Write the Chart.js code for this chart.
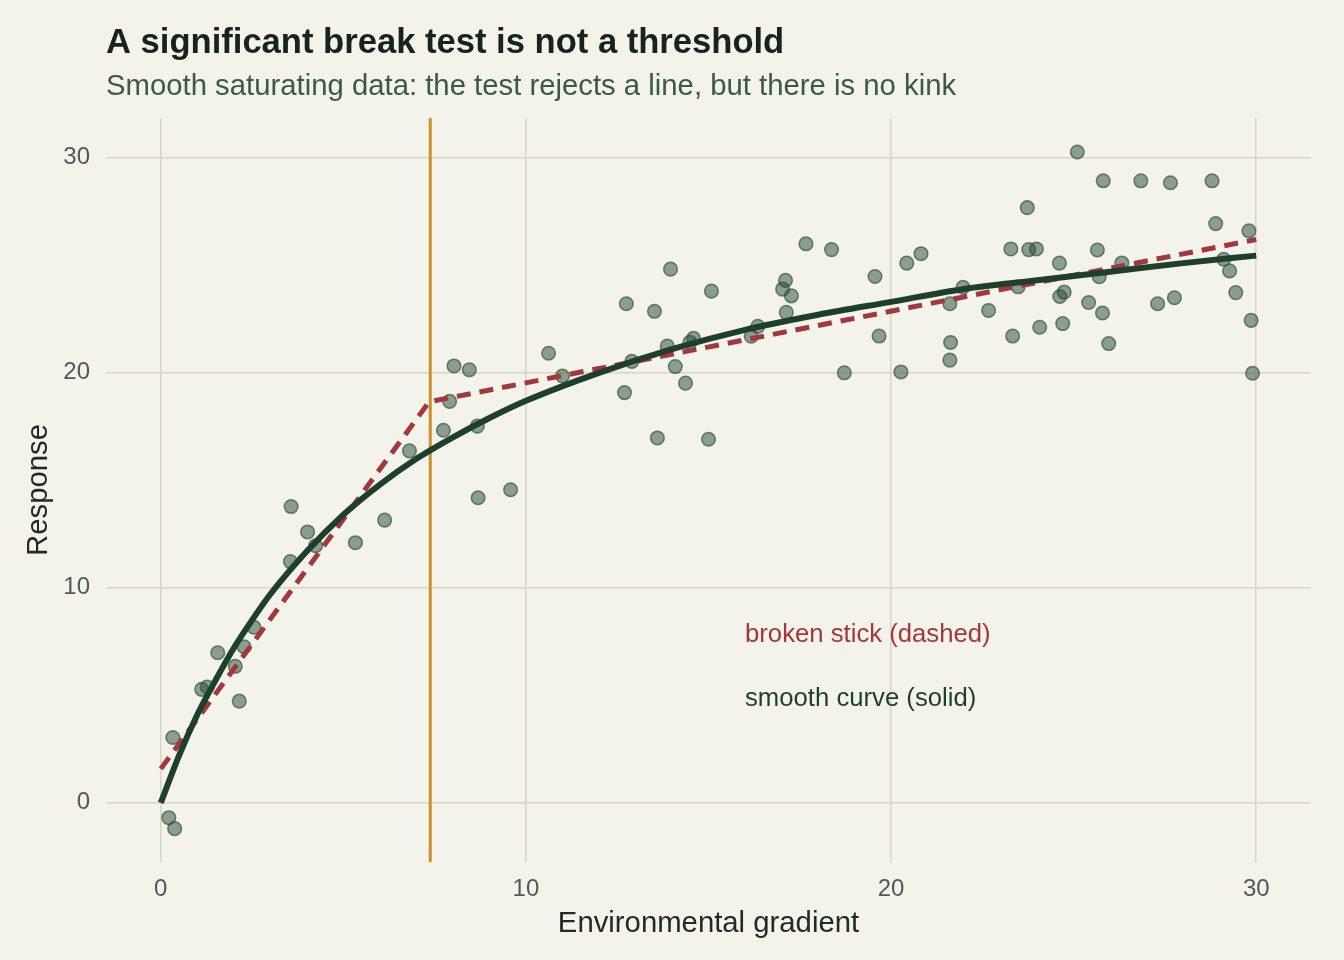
<!DOCTYPE html>
<html>
<head>
<meta charset="utf-8">
<title>A significant break test is not a threshold</title>
<script src="https://cdn.jsdelivr.net/npm/chart.js@4.4.1/dist/chart.umd.min.js"></script>
<style>
  html, body { margin: 0; padding: 0; background: #f3f2eb; }
  #wrap { width: 1344px; height: 960px; }
</style>
</head>
<body>
<div id="wrap"><canvas id="chart" width="1344" height="960"></canvas></div>
<script>
// observed points (x = environmental gradient, y = response)
const obsX = [0.22, 0.38, 0.33, 1.12, 1.27, 1.56, 2.04, 2.15, 2.28, 2.55, 3.57, 3.55, 4.02, 4.24,
  5.33, 6.13, 6.81, 7.74, 7.91, 8.03, 8.45, 8.67, 8.69, 9.58, 10.62, 11.0, 12.7, 12.75, 12.9,
  13.52, 13.6, 13.87, 13.96, 14.09, 14.37, 14.49, 14.59, 15.0, 15.08, 16.17, 16.35, 17.03, 17.11,
  17.13, 17.27, 17.67, 18.37, 18.72, 19.56, 19.67, 20.27, 20.43, 20.82, 21.61, 21.63, 21.61,
  21.97, 22.67, 23.28, 23.33, 23.48, 23.73, 23.77, 23.98, 24.07, 24.61, 24.62, 24.74, 24.7,
  25.1, 25.41, 25.65, 25.7, 25.79, 25.81, 25.96, 26.32, 26.84, 27.3, 27.65, 27.76, 28.79,
  28.89, 29.11, 29.27, 29.44, 29.8, 29.86, 29.9];
const obsY = [-0.69, -1.2, 3.04, 5.28, 5.39, 6.98, 6.35, 4.73, 7.26, 8.17, 13.78, 11.22, 12.6, 11.96,
  12.1, 13.15, 16.37, 17.33, 18.67, 20.32, 20.14, 17.52, 14.19, 14.56, 20.91, 19.85, 19.08,
  23.21, 20.53, 22.86, 16.97, 21.24, 24.82, 20.29, 19.52, 21.42, 21.6, 16.91, 23.8, 21.7,
  22.16, 23.89, 24.3, 22.81, 23.58, 26.0, 25.73, 20.0, 24.48, 21.71, 20.04, 25.1, 25.54,
  23.21, 21.41, 20.59, 23.98, 22.9, 25.76, 21.71, 24.0, 27.68, 25.73, 25.76, 22.12, 25.1,
  23.55, 23.75, 22.29, 30.27, 23.27, 25.71, 24.47, 22.78, 28.93, 21.36, 25.11, 28.93, 23.21,
  28.84, 23.49, 28.93, 26.94, 25.28, 24.74, 23.73, 26.6, 22.44, 19.98];

// smooth saturating fit
const curveX = [0, 0.5, 1, 1.5, 2, 2.5, 3, 4, 5, 6, 7, 8, 9, 10, 12, 14, 16, 18, 20, 22, 24,
  26, 28, 30];
const curveY = [0, 2.2, 4.1, 5.7, 7.2, 8.5, 9.7, 11.7, 13.4, 14.8, 16.0, 17.0, 17.9, 18.7, 20.0,
  21.1, 22.0, 22.7, 23.3, 23.9, 24.3, 24.7, 25.1, 25.45];

// broken stick fit
const stickX = [0, 7.35, 30];
const stickY = [1.58, 18.65, 26.2];

// estimated break point
const breakX = [7.38, 7.38];
const breakY = [-2.75, 31.85];

const xTicks = [0, 10, 20, 30];
const yTicks = [0, 10, 20, 30];

const notes = [
  { text: 'broken stick (dashed)', x: 16.0, y: 7.8, color: '#a3383b' },
  { text: 'smooth curve (solid)', x: 16.0, y: 4.84, color: '#1d3f2b' }
];

const FONT = '"Liberation Sans", Arial, Helvetica, sans-serif';

const toXY = (xs, ys) => xs.map((x, i) => ({ x, y: ys[i] }));

// titles, axis titles and in-plot notes
const textPlugin = {
  id: 'texts',
  afterDatasetsDraw(chart) {
    const { ctx, scales } = chart;
    ctx.save();
    ctx.textBaseline = 'middle';
    ctx.textAlign = 'left';
    ctx.font = '25.7px ' + FONT;
    notes.forEach(n => {
      ctx.fillStyle = n.color;
      ctx.fillText(n.text, scales.x.getPixelForValue(n.x), scales.y.getPixelForValue(n.y));
    });
    ctx.restore();
  },
  afterDraw(chart) {
    const { ctx, chartArea } = chart;
    ctx.save();
    ctx.textBaseline = 'alphabetic';
    ctx.textAlign = 'left';
    ctx.fillStyle = '#17241b';
    ctx.font = 'bold 34.6px ' + FONT;
    ctx.fillText('A significant break test is not a threshold', 106, 53);
    ctx.fillStyle = '#3b5a45';
    ctx.font = '29.3px ' + FONT;
    ctx.fillText('Smooth saturating data: the test rejects a line, but there is no kink', 106, 95);

    ctx.fillStyle = '#222a24';
    ctx.font = '29.3px ' + FONT;
    ctx.textAlign = 'center';
    ctx.fillText('Environmental gradient', (chartArea.left + chartArea.right) / 2, 932);
    ctx.translate(47, (chartArea.top + chartArea.bottom) / 2);
    ctx.rotate(-Math.PI / 2);
    ctx.fillText('Response', 0, 0);
    ctx.restore();
  }
};

const bgPlugin = {
  id: 'bg',
  beforeDraw(chart) {
    const { ctx, width, height } = chart;
    ctx.save();
    ctx.fillStyle = '#f3f2eb';
    ctx.fillRect(0, 0, width, height);
    ctx.restore();
  }
};

new Chart(document.getElementById('chart'), {
  type: 'scatter',
  data: {
    datasets: [
      {
        label: 'smooth curve',
        data: toXY(curveX, curveY),
        showLine: true,
        borderColor: '#1d3f2b',
        borderWidth: 6,
        pointRadius: 0,
        cubicInterpolationMode: 'monotone',
        fill: false
      },
      {
        label: 'broken stick',
        data: toXY(stickX, stickY),
        showLine: true,
        borderColor: '#a3383b',
        borderWidth: 5,
        borderDash: [14, 9],
        pointRadius: 0,
        tension: 0,
        fill: false
      },
      {
        label: 'break',
        data: toXY(breakX, breakY),
        showLine: true,
        borderColor: '#c8912c',
        borderWidth: 3,
        pointRadius: 0,
        fill: false
      },
      {
        label: 'observations',
        data: toXY(obsX, obsY),
        pointRadius: 6.8,
        pointBackgroundColor: 'rgba(45, 80, 58, 0.52)',
        pointBorderColor: 'rgba(45, 80, 58, 0.68)',
        pointBorderWidth: 1.5
      }
    ]
  },
  options: {
    responsive: false,
    animation: false,
    layout: { padding: { top: 118, right: 33, left: 0, bottom: 0 } },
    plugins: {
      legend: { display: false },
      tooltip: { enabled: false }
    },
    scales: {
      x: {
        type: 'linear',
        min: -1.5,
        max: 31.5,
        afterFit: s => { s.height = 98; },
        afterBuildTicks: s => { s.ticks = xTicks.map(v => ({ value: v })); },
        grid: { color: '#d7d6c4', lineWidth: 1.5, drawTicks: false },
        border: { display: false },
        ticks: { color: '#4f5a54', font: { family: FONT, size: 24 }, padding: 13 }
      },
      y: {
        type: 'linear',
        min: -2.75,
        max: 31.85,
        afterFit: s => { s.width = 106; },
        afterBuildTicks: s => { s.ticks = yTicks.map(v => ({ value: v })); },
        grid: { color: '#d7d6c4', lineWidth: 1.5, drawTicks: false },
        border: { display: false },
        ticks: { color: '#4f5a54', font: { family: FONT, size: 24 }, padding: 16 }
      }
    }
  },
  plugins: [bgPlugin, textPlugin]
});
</script>
</body>
</html>
